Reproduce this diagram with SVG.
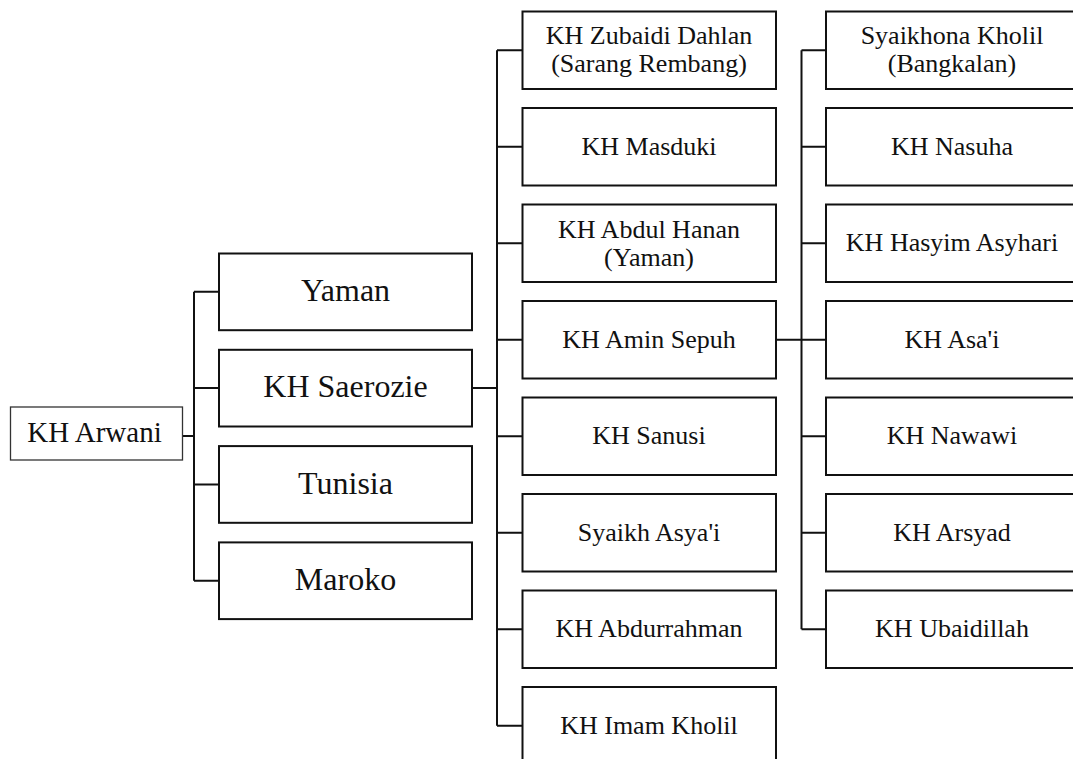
<svg xmlns="http://www.w3.org/2000/svg" width="1073" height="759" viewBox="0 0 1073 759">
  <style>
    .box { fill: #ffffff; stroke: #111111; stroke-width: 2; }
    .root { fill: #ffffff; stroke: #333333; stroke-width: 1.3; }
    .wire { fill: none; stroke: #111111; stroke-width: 2; }
    text { font-family: "Liberation Serif", "Times New Roman", serif; fill: #111111; text-anchor: middle; }
    .t1 { font-size: 32px; }
    .t0 { font-size: 29px; }
    .t2 { font-size: 26px; }
  </style>
  <rect width="1073" height="759" fill="#ffffff"/>

  <!-- connectors -->
  <g id="connectors">
    <!-- KH Arwani to its four children -->
    <path class="wire" d="M182 436 H194 M194 291.8 V580.8 M194 291.8 H219 M194 388.1 H219 M194 484.4 H219 M194 580.8 H219"/>
    <!-- KH Saerozie to teachers -->
    <path class="wire" d="M472 388.1 H497 M497 50.2 V725.7 M497 50.2 H522 M497 146.7 H522 M497 243.2 H522 M497 339.7 H522 M497 436.2 H522 M497 532.7 H522 M497 629.2 H522 M497 725.7 H522"/>
    <!-- KH Amin Sepuh to teachers -->
    <path class="wire" d="M776 339.7 H801.5 M801.5 50.2 V629.2 M801.5 50.2 H826 M801.5 146.7 H826 M801.5 243.2 H826 M801.5 339.7 H826 M801.5 436.2 H826 M801.5 532.7 H826 M801.5 629.2 H826"/>
  </g>

  <!-- root -->
  <g id="arwani">
    <rect class="root" x="10.5" y="407" width="172" height="53"/>
    <text class="t0" x="94.5" y="442">KH Arwani</text>
  </g>

  <!-- level 1 -->
  <g id="yaman">
    <rect class="box" x="219" y="253.5" width="253" height="76.7"/>
    <text class="t1" x="345.5" y="301">Yaman</text>
  </g>
  <g id="saerozie">
    <rect class="box" x="219" y="349.8" width="253" height="76.7"/>
    <text class="t1" x="345.5" y="397">KH Saerozie</text>
  </g>
  <g id="tunisia">
    <rect class="box" x="219" y="446.1" width="253" height="76.7"/>
    <text class="t1" x="345.5" y="493.5">Tunisia</text>
  </g>
  <g id="maroko">
    <rect class="box" x="219" y="542.4" width="253" height="76.7"/>
    <text class="t1" x="345.5" y="590">Maroko</text>
  </g>

  <!-- level 2 -->
  <g id="zubaidi">
    <rect class="box" x="522.5" y="11.5" width="253.5" height="77.5"/>
    <text class="t2" x="649" y="44">KH Zubaidi Dahlan</text>
    <text class="t2" x="649" y="72">(Sarang Rembang)</text>
  </g>
  <g id="masduki">
    <rect class="box" x="522.5" y="108" width="253.5" height="77.5"/>
    <text class="t2" x="649" y="154.5">KH Masduki</text>
  </g>
  <g id="abdul-hanan">
    <rect class="box" x="522.5" y="204.5" width="253.5" height="77.5"/>
    <text class="t2" x="649" y="237.5">KH Abdul Hanan</text>
    <text class="t2" x="649" y="265.5">(Yaman)</text>
  </g>
  <g id="amin-sepuh">
    <rect class="box" x="522.5" y="301" width="253.5" height="77.5"/>
    <text class="t2" x="649" y="347.5">KH Amin Sepuh</text>
  </g>
  <g id="sanusi">
    <rect class="box" x="522.5" y="397.5" width="253.5" height="77.5"/>
    <text class="t2" x="649" y="444">KH Sanusi</text>
  </g>
  <g id="syaikh-asyai">
    <rect class="box" x="522.5" y="494" width="253.5" height="77.5"/>
    <text class="t2" x="649" y="540.5">Syaikh Asya'i</text>
  </g>
  <g id="abdurrahman">
    <rect class="box" x="522.5" y="590.5" width="253.5" height="77.5"/>
    <text class="t2" x="649" y="637">KH Abdurrahman</text>
  </g>
  <g id="imam-kholil">
    <rect class="box" x="522.5" y="687" width="253.5" height="77.5"/>
    <text class="t2" x="649" y="733.5">KH Imam Kholil</text>
  </g>

  <!-- level 3 -->
  <g id="syaikhona-kholil">
    <rect class="box" x="826" y="11.5" width="253" height="77.5"/>
    <text class="t2" x="952" y="44">Syaikhona Kholil</text>
    <text class="t2" x="952" y="72">(Bangkalan)</text>
  </g>
  <g id="nasuha">
    <rect class="box" x="826" y="108" width="253" height="77.5"/>
    <text class="t2" x="952" y="154.5">KH Nasuha</text>
  </g>
  <g id="hasyim-asyhari">
    <rect class="box" x="826" y="204.5" width="253" height="77.5"/>
    <text class="t2" x="952" y="251">KH Hasyim Asyhari</text>
  </g>
  <g id="asai">
    <rect class="box" x="826" y="301" width="253" height="77.5"/>
    <text class="t2" x="952" y="347.5">KH Asa'i</text>
  </g>
  <g id="nawawi">
    <rect class="box" x="826" y="397.5" width="253" height="77.5"/>
    <text class="t2" x="952" y="444">KH Nawawi</text>
  </g>
  <g id="arsyad">
    <rect class="box" x="826" y="494" width="253" height="77.5"/>
    <text class="t2" x="952" y="540.5">KH Arsyad</text>
  </g>
  <g id="ubaidillah">
    <rect class="box" x="826" y="590.5" width="253" height="77.5"/>
    <text class="t2" x="952" y="637">KH Ubaidillah</text>
  </g>
</svg>
